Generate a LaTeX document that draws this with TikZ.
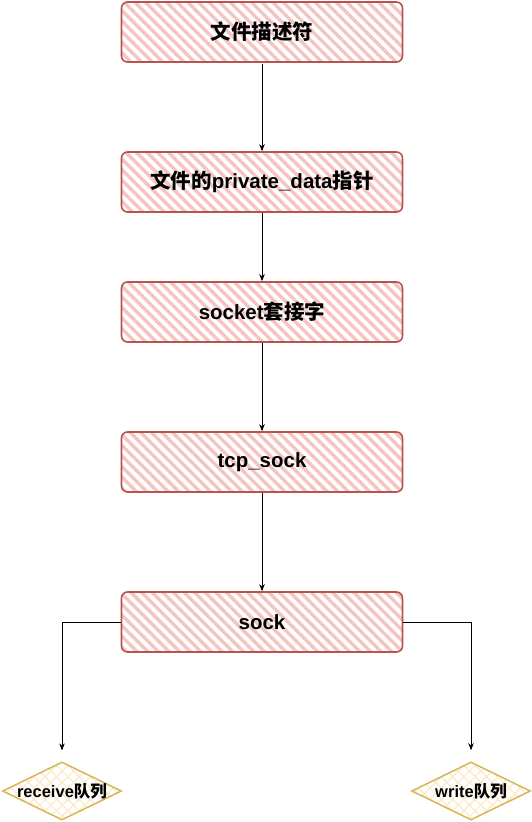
\documentclass[tikz,border=0pt]{standalone}
\usepackage{fontspec}
\setmainfont{Liberation Sans}
\newfontfamily\cjk{Noto Sans CJK SC}
\usetikzlibrary{shapes.geometric,arrows.meta,patterns.meta}
\definecolor{redline}{HTML}{B85450}
\definecolor{redhatch}{HTML}{F5C4C2}
\definecolor{yelline}{HTML}{D6B656}
\definecolor{yelhatch}{HTML}{FCE9C6}
\tikzset{
  databox/.style={draw=redline, line width=1.6pt, rounded corners=6pt,
    pattern={Lines[angle=-45,distance=7.5pt,line width=3.4pt]}, pattern color=redhatch,
    minimum width=281pt, minimum height=60pt, inner sep=0pt},
  boxtext/.style={font=\fontsize{20.5}{24}\selectfont\bfseries},
  queue/.style={shape=diamond, draw=yelline, line width=1.5pt,
    pattern={Hatch[angle=45,distance=8pt,line width=1.2pt]}, pattern color=yelhatch,
    minimum width=119pt, minimum height=58pt, inner sep=0pt},
  qtext/.style={font=\fontsize{16.5}{19}\selectfont\bfseries},
  link/.style={draw=black, line width=0.8pt, -{Stealth[length=7pt,width=5.5pt]}}
}
\begin{document}
\begin{tikzpicture}[x=1pt,y=-1pt]
\useasboundingbox (0,0) rectangle (532,822);
\node[databox] (fd) at (262,32) {};
\node[boxtext] at (fd.center) {\cjk\bfseries 文件描述符};
\node[databox] (pd) at (262,182) {};
\node[boxtext] at (pd.center) {{\cjk\bfseries 文件的}private\_data{\cjk\bfseries 指针}};
\node[databox] (sk) at (262,312) {};
\node[boxtext] at (sk.center) {socket{\cjk\bfseries 套接字}};
\node[databox] (tcp) at (262,462) {};
\node[boxtext] at (tcp.center) {tcp\_sock};
\node[databox] (sock) at (262,622) {};
\node[boxtext] at (sock.center) {sock};
\node[queue] (rq) at (62,791) {};
\node[qtext] at (rq.center) {receive{\cjk\bfseries 队列}};
\node[queue] (wq) at (471,791) {};
\node[qtext] at (wq.center) {write{\cjk\bfseries 队列}};
\draw[link] (fd) -- (pd);
\draw[link] (pd) -- (sk);
\draw[link] (sk) -- (tcp);
\draw[link] (tcp) -- (sock);
\draw[link, shorten >=11pt] (sock.west) -| (rq.north);
\draw[link, shorten >=11pt] (sock.east) -| (wq.north);
\end{tikzpicture}
\end{document}
